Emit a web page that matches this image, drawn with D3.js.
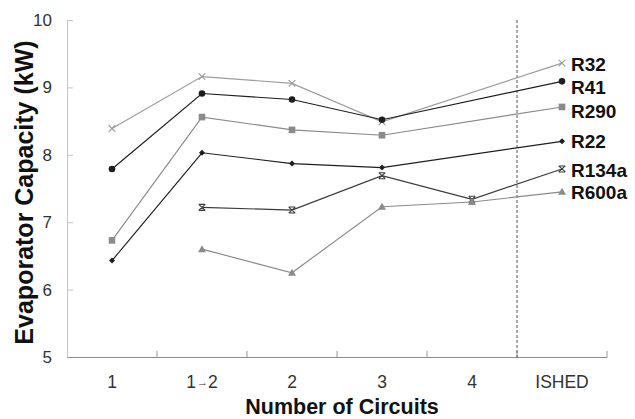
<!DOCTYPE html>
<html>
<head>
<meta charset="utf-8">
<script src="https://cdn.jsdelivr.net/npm/d3@7/dist/d3.min.js"></script>
<style>
  html, body { margin: 0; padding: 0; background: #fff; }
  svg { display: block; font-family: "Liberation Sans", Arial, sans-serif; }
</style>
</head>
<body>
<svg id="chart" width="635" height="419"></svg>
<script>
// Evaporator capacity (kW) by circuitry design, per refrigerant
const categories = ["1", "1\u21922", "2", "3", "4", "ISHED"];
const r32   = [8.39, 9.16, 9.06, 8.49, null, 9.36];
const r41   = [7.79, 8.91, 8.82, 8.52, null, 9.09];
const r290  = [6.73, 8.56, 8.37, 8.29, null, 8.71];
const r22   = [6.43, 8.03, 7.87, 7.81, null, 8.20];
const r134a = [null, 7.22, 7.18, 7.69, 7.34, 7.79];
const r600a = [null, 6.60, 6.25, 7.23, 7.30, 7.45];
const yTicks = [5, 6, 7, 8, 9, 10];

const series = [
  { name: "R32",   values: r32,   color: "#9c9c9c", marker: "cross",    dy: 1 },
  { name: "R41",   values: r41,   color: "#1e1e1e", marker: "circle",   dy: 6 },
  { name: "R290",  values: r290,  color: "#8a8a8a", marker: "square",   dy: 4 },
  { name: "R22",   values: r22,   color: "#1e1e1e", marker: "diamond",  dy: 0 },
  { name: "R134a", values: r134a, color: "#3a3a3a", marker: "asterisk", dy: 1 },
  { name: "R600a", values: r600a, color: "#8a8a8a", marker: "triangle", dy: 0 }
];

const svg = d3.select("#chart");
const plotLeft = 67, plotRight = 607, plotTop = 20, plotBottom = 357;

const x = d3.scaleBand().domain(categories).range([plotLeft, plotRight]).padding(0);
const y = d3.scaleLinear().domain([5, 10]).range([plotBottom, plotTop]);
const cx = c => x(c) + x.bandwidth() / 2;

// y axis: light rule with inward ticks
const yAxis = svg.append("g")
  .attr("transform", `translate(${plotLeft},0)`)
  .call(d3.axisLeft(y).tickValues(yTicks).tickSizeInner(-6).tickSizeOuter(0).tickPadding(15).tickFormat(d3.format("d")));
yAxis.select(".domain").attr("stroke", "#c4c4c4");
yAxis.selectAll(".tick line").attr("stroke", "#c4c4c4");
yAxis.selectAll(".tick text").attr("font-size", 17).attr("fill", "#333")
  .attr("font-family", "Liberation Sans, Arial, sans-serif");

// x axis: labels centred in each band, tick marks on band boundaries
const xAxis = svg.append("g")
  .attr("transform", `translate(0,${plotBottom})`)
  .call(d3.axisBottom(x).tickSize(0).tickPadding(19));
xAxis.select(".domain").attr("stroke", "#8c8c8c");
xAxis.selectAll(".tick text").attr("font-size", 17.5).attr("fill", "#333")
  .attr("font-family", "Liberation Sans, Arial, sans-serif");
xAxis.selectAll(".tick text").filter(d => d === categories[1])
  .text(null)
  .call(t => {
    t.append("tspan").text("1");
    t.append("tspan").attr("font-size", 11).attr("dy", -2).attr("dx", 1).text("\u2192");
    t.append("tspan").attr("dy", 2).text("2");
  });

const bounds = categories.map(c => x(c)).concat([plotRight]).slice(1);
svg.append("g").selectAll("line").data(bounds).join("line")
  .attr("x1", d => d).attr("x2", d => d)
  .attr("y1", plotBottom).attr("y2", plotBottom - 6)
  .attr("stroke", "#9a9a9a");

// separator before the ISHED design
svg.append("line")
  .attr("x1", x("ISHED")).attr("x2", x("ISHED"))
  .attr("y1", plotTop).attr("y2", plotBottom)
  .attr("stroke", "#555").attr("stroke-width", 1)
  .attr("stroke-dasharray", "3,2");

// axis titles
svg.append("text")
  .attr("x", 342).attr("y", 414)
  .attr("text-anchor", "middle")
  .attr("font-weight", "bold").attr("font-size", 21.5).attr("fill", "#111")
  .text("Number of Circuits");

svg.append("text")
  .attr("transform", `translate(33,${(plotTop + plotBottom) / 2 + 4}) rotate(-90)`)
  .attr("text-anchor", "middle")
  .attr("font-weight", "bold").attr("font-size", 25).attr("fill", "#111")
  .text("Evaporator Capacity (kW)");

// series lines and markers
const line = d3.line().x(d => cx(d.cat)).y(d => y(d.v));

function drawMarker(g, kind, color) {
  if (kind === "circle") {
    g.append("circle").attr("r", 3.3).attr("fill", color);
  } else if (kind === "square") {
    g.append("rect").attr("x", -3.3).attr("y", -3.3).attr("width", 6.6).attr("height", 6.6).attr("fill", color);
  } else if (kind === "diamond") {
    g.append("path").attr("d", "M0,-3L3,0L0,3L-3,0Z").attr("fill", color);
  } else if (kind === "triangle") {
    g.append("path").attr("d", "M0,-4L4,3L-4,3Z").attr("fill", color);
  } else if (kind === "cross") {
    g.append("path").attr("d", "M-3.3,-3.3L3.3,3.3M-3.3,3.3L3.3,-3.3")
      .attr("stroke", color).attr("stroke-width", 1.2).attr("fill", "none");
  } else if (kind === "asterisk") {
    g.append("path").attr("d", "M-3.3,-3L3.3,3M-3.3,3L3.3,-3M-3.3,-3L3.3,-3M-3.3,3L3.3,3")
      .attr("stroke", color).attr("stroke-width", 1.1).attr("fill", "none");
  }
}

series.forEach(s => {
  const pts = s.values.map((v, i) => ({ cat: categories[i], v })).filter(d => d.v !== null);
  svg.append("path").datum(pts)
    .attr("d", line)
    .attr("fill", "none").attr("stroke", s.color).attr("stroke-width", 1.15);
  pts.forEach(p => {
    const g = svg.append("g").attr("transform", `translate(${cx(p.cat)},${y(p.v)})`);
    drawMarker(g, s.marker, s.color);
  });
  const last = pts[pts.length - 1];
  svg.append("text")
    .attr("x", cx(last.cat) + 9)
    .attr("y", y(last.v) + s.dy)
    .attr("dy", "0.36em")
    .attr("font-weight", "bold").attr("font-size", 19).attr("fill", "#111")
    .text(s.name);
});
</script>
</body>
</html>
